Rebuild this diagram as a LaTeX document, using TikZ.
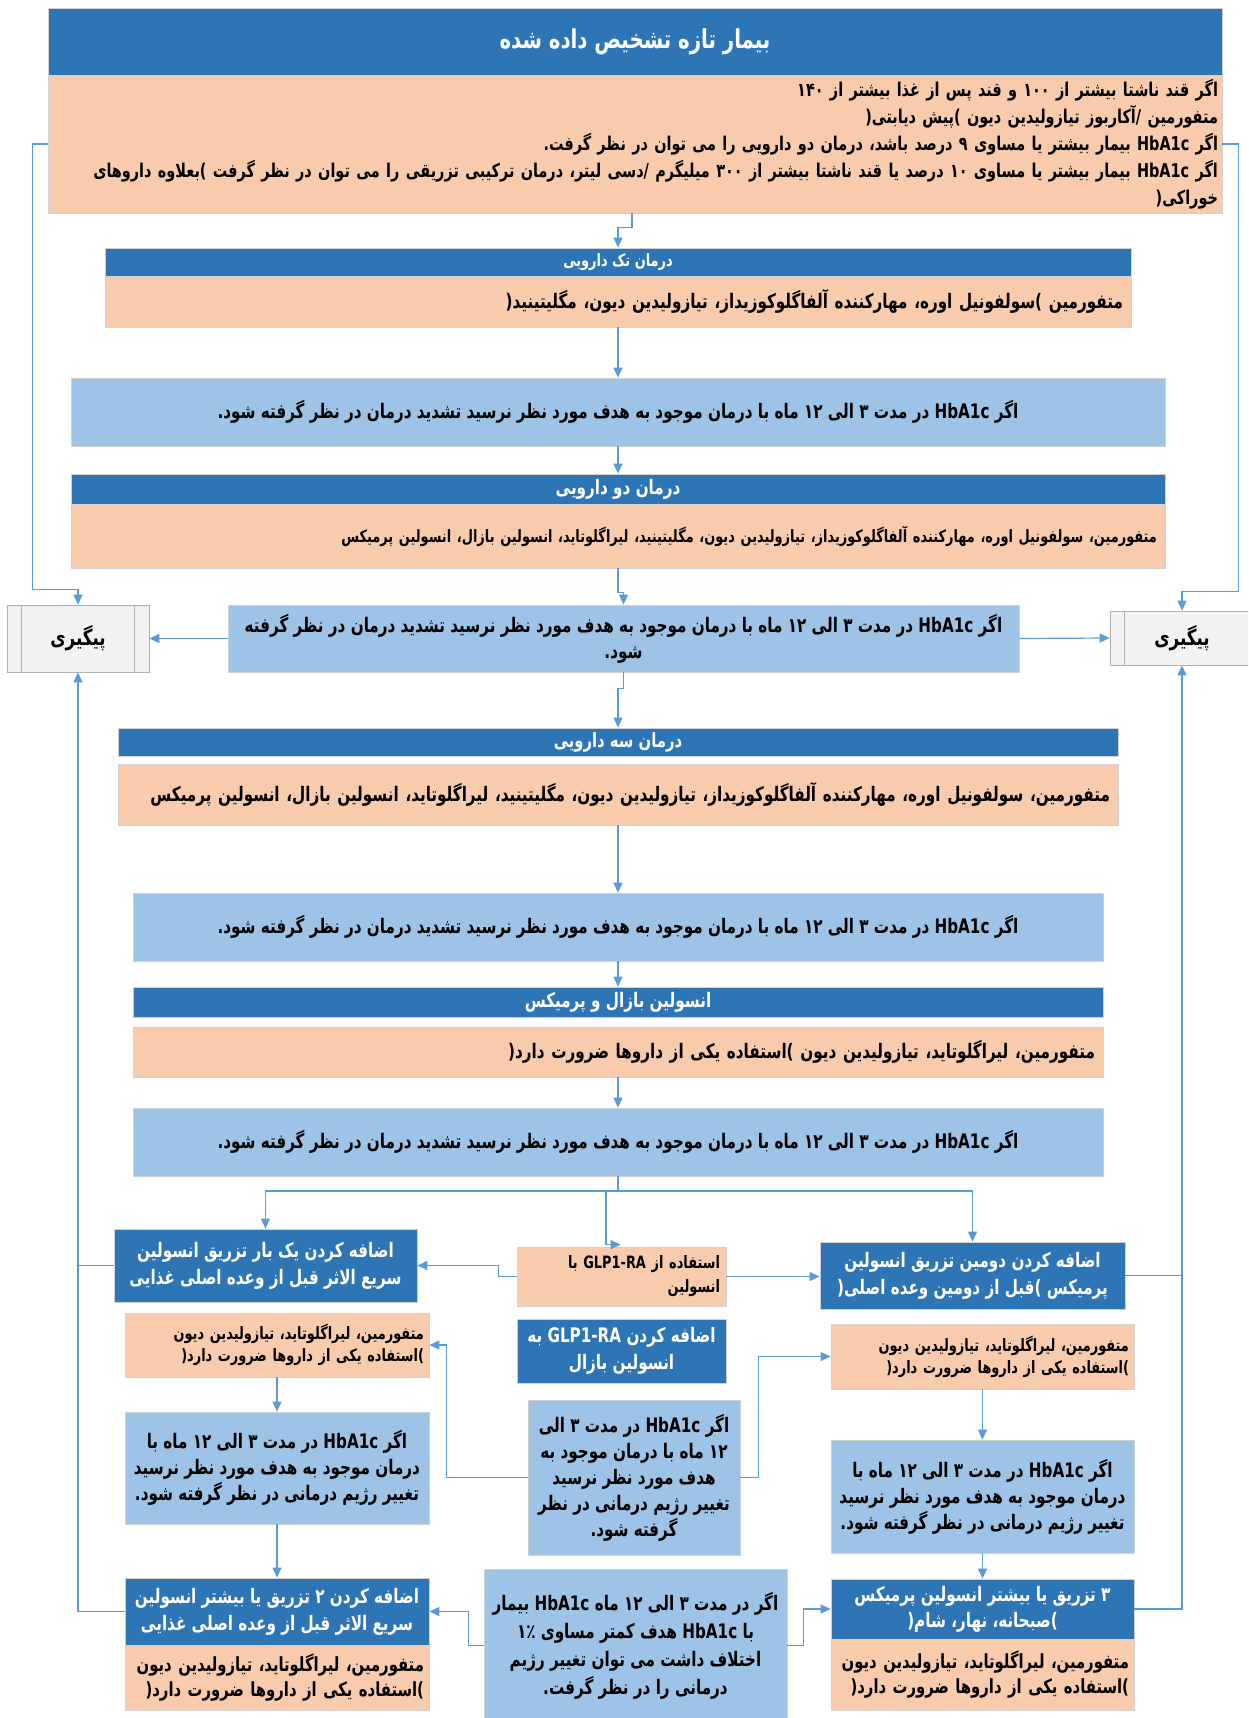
\documentclass[tikz,border=0pt]{standalone}
\usepackage{fontspec}
\usetikzlibrary{arrows.meta}
\TeXXeTstate=1
\newfontfamily\farsi[Script=Arabic,FakeStretch=0.76]{DejaVu Sans}
\newcommand{\fa}[1]{\beginR #1\endR}
\newcommand{\fs}[2]{\fontsize{#1}{#2}\selectfont}
\newcommand{\glp}{\mbox{GLP1-RA}}
\newcommand{\hbcond}{اگر HbA1c در مدت ۳ الی ۱۲ ماه با درمان موجود به هدف مورد نظر نرسید تشدید درمان در نظر گرفته شود.}
\definecolor{hdblue}{RGB}{46,117,182}
\definecolor{pchfill}{RGB}{248,203,173}
\definecolor{ltblue}{RGB}{157,195,230}
\definecolor{pigfill}{RGB}{242,242,242}
\definecolor{lnblue}{RGB}{91,155,213}
\tikzset{
  box/.style={draw=black!18, line width=0.8, inner sep=4},
  hdr/.style={box, fill=hdblue, text=white},
  pch/.style={box, fill=pchfill},
  cond/.style={box, fill=ltblue},
  pig/.style={box, fill=pigfill, draw=black!30},
  ln/.style={draw=lnblue, line width=1.2},
  arr/.style={ln, -{Triangle[width=9,length=10]}},
}
\begin{document}
\begin{tikzpicture}[x=1pt,y=-1pt]
\useasboundingbox (0,0) rectangle (1248,1718);
\clip (0,0) rectangle (1248,1718);
% main column
\node[hdr, minimum width=1174, minimum height=67, font=\farsi\bfseries\fs{26}{30}] (title) at (635,41.5) {\fa{بیمار تازه تشخیص داده شده}};
\node[pch, minimum width=1174, minimum height=138, text width=1166, align=right, font=\farsi\bfseries\fs{19}{27}] (top2) at (635,144)
  {\fa{اگر قند ناشتا بیشتر از ۱۰۰ و قند پس از غذا بیشتر از ۱۴۰}\\
   \fa{متفورمین /آکاربوز تیازولیدین دیون )پیش دیابتی(}\\
   \fa{اگر HbA1c بیمار بیشتر یا مساوی ۹ درصد باشد، درمان دو دارویی را می توان در نظر گرفت.}\\
   \fa{اگر HbA1c بیمار بیشتر یا مساوی ۱۰ درصد یا قند ناشتا بیشتر از ۳۰۰ میلیگرم /دسی لیتر، درمان ترکیبی تزریقی را می توان در نظر گرفت )بعلاوه داروهای}\\
   \fa{خوراکی(}};
\node[hdr, minimum width=1026, minimum height=28, font=\farsi\bfseries\fs{17}{20}] (monoH) at (618,262) {\fa{درمان تک دارویی}};
\node[pch, minimum width=1026, minimum height=51, text width=1010, align=right, font=\farsi\bfseries\fs{20}{24}] (monoP) at (618,301.5)
  {\fa{متفورمین )سولفونیل اوره، مهارکننده آلفاگلوکوزیداز، تیازولیدین دیون، مگلیتینید(}};
\node[cond, minimum width=1094, minimum height=68, font=\farsi\bfseries\fs{20}{26}] (lb1) at (618,412) {\fa{\hbcond}};
\node[hdr, minimum width=1094, minimum height=30, font=\farsi\bfseries\fs{20}{22}] (duoH) at (618,489) {\fa{درمان دو دارویی}};
\node[pch, minimum width=1094, minimum height=64, text width=1078, align=right, font=\farsi\bfseries\fs{17}{20}] (duoP) at (618,536)
  {\fa{متفورمین، سولفونیل اوره، مهارکننده آلفاگلوکوزیداز، تیازولیدین دیون، مگلیتینید، لیراگلوتاید، انسولین بازال، انسولین پرمیکس}};
\node[cond, minimum width=791, minimum height=67, align=center, font=\farsi\bfseries\fs{20}{26}] (lb2) at (623.5,638.5)
  {\fa{اگر HbA1c در مدت ۳ الی ۱۲ ماه با درمان موجود به هدف مورد نظر نرسید تشدید درمان در نظر گرفته}\\ \fa{شود.}};
\node[pig, minimum width=142, minimum height=67, font=\farsi\bfseries\fs{22}{24}] (pigL) at (78,638.5) {\fa{پیگیری}};
\node[pig, minimum width=144, minimum height=54, font=\farsi\bfseries\fs{22}{24}] (pigR) at (1182,638) {\fa{پیگیری}};
\draw[black!30] ([xshift=15]pigL.north west) -- ([xshift=15]pigL.south west);
\draw[black!30] ([xshift=-15]pigL.north east) -- ([xshift=-15]pigL.south east);
\draw[black!30] ([xshift=15]pigR.north west) -- ([xshift=15]pigR.south west);
\node[hdr, minimum width=1000, minimum height=28, font=\farsi\bfseries\fs{19.5}{22}] (triH) at (618,742) {\fa{درمان سه دارویی}};
\node[pch, minimum width=1000, minimum height=61, text width=984, align=right, font=\farsi\bfseries\fs{20}{24}] (triP) at (618,794.5)
  {\fa{متفورمین، سولفونیل اوره، مهارکننده آلفاگلوکوزیداز، تیازولیدین دیون، مگلیتینید، لیراگلوتاید، انسولین بازال، انسولین پرمیکس}};
\node[cond, minimum width=970, minimum height=68, font=\farsi\bfseries\fs{20}{26}] (lb3) at (618,927) {\fa{\hbcond}};
\node[hdr, minimum width=970, minimum height=30, font=\farsi\bfseries\fs{20}{22}] (bpH) at (618,1002) {\fa{انسولین بازال و پرمیکس}};
\node[pch, minimum width=970, minimum height=50, text width=954, align=right, font=\farsi\bfseries\fs{20}{24}] (bpP) at (618,1052)
  {\fa{متفورمین، لیراگلوتاید، تیازولیدین دیون )استفاده یکی از داروها ضرورت دارد(}};
\node[cond, minimum width=970, minimum height=68, font=\farsi\bfseries\fs{20}{26}] (lb4) at (618,1142) {\fa{\hbcond}};
% lower branches
\node[hdr, minimum width=303, minimum height=73, align=center, font=\farsi\bfseries\fs{20}{27}] (addA) at (265.5,1265.5)
  {\fa{اضافه کردن یک بار تزریق انسولین}\\ \fa{سریع الاثر قبل از وعده اصلی غذایی}};
\node[pch, minimum width=209, minimum height=59, text width=197, align=right, font=\farsi\bfseries\fs{17}{24}] (glpP) at (621.5,1276.5)
  {\fa{استفاده از \glp{} با}\\ \fa{انسولین}};
\node[hdr, minimum width=305, minimum height=67, align=center, font=\farsi\bfseries\fs{20}{27}] (addB) at (972.5,1275.5)
  {\fa{اضافه کردن دومین تزریق انسولین}\\ \fa{پرمیکس )قبل از دومین وعده اصلی(}};
\node[pch, minimum width=304, minimum height=64, text width=294, align=right, font=\farsi\bfseries\fs{17}{22}] (drgL) at (277,1345)
  {\fa{متفورمین، لیراگلوتاید، تیازولیدین دیون}\\ \fa{)استفاده یکی از داروها ضرورت دارد(}};
\node[hdr, minimum width=209, minimum height=64, align=center, font=\farsi\bfseries\fs{20}{27}] (glpB) at (621.5,1351)
  {\fa{اضافه کردن \glp{} به}\\ \fa{انسولین بازال}};
\node[pch, minimum width=303, minimum height=65, text width=293, align=right, font=\farsi\bfseries\fs{17}{22}] (drgR) at (982.5,1356.5)
  {\fa{متفورمین، لیراگلوتاید، تیازولیدین دیون}\\ \fa{)استفاده یکی از داروها ضرورت دارد(}};
\node[cond, minimum width=212, minimum height=155, align=center, font=\farsi\bfseries\fs{20}{26}] (regM) at (634,1477.5)
  {\fa{اگر HbA1c در مدت ۳ الی}\\ \fa{۱۲ ماه با درمان موجود به}\\ \fa{هدف مورد نظر نرسید}\\ \fa{تغییر رژیم درمانی در نظر}\\ \fa{گرفته شود.}};
\node[cond, minimum width=304, minimum height=112, align=center, font=\farsi\bfseries\fs{20}{26}] (regL) at (277,1468)
  {\fa{اگر HbA1c در مدت ۳ الی ۱۲ ماه با}\\ \fa{درمان موجود به هدف مورد نظر نرسید}\\ \fa{تغییر رژیم درمانی در نظر گرفته شود.}};
\node[cond, minimum width=303, minimum height=113, align=center, font=\farsi\bfseries\fs{20}{26}] (regR) at (982.5,1496.5)
  {\fa{اگر HbA1c در مدت ۳ الی ۱۲ ماه با}\\ \fa{درمان موجود به هدف مورد نظر نرسید}\\ \fa{تغییر رژیم درمانی در نظر گرفته شود.}};
\node[hdr, minimum width=304, minimum height=67, align=center, font=\farsi\bfseries\fs{20}{27}] (addK) at (277,1611.5)
  {\fa{اضافه کردن ۲ تزریق یا بیشتر انسولین}\\ \fa{سریع الاثر قبل از وعده اصلی غذایی}};
\node[pch, minimum width=304, minimum height=65, text width=294, align=right, font=\farsi\bfseries\fs{19.5}{25}] (drgK) at (277,1677.5)
  {\fa{متفورمین، لیراگلوتاید، تیازولیدین دیون}\\ \fa{)استفاده یکی از داروها ضرورت دارد(}};
\node[cond, minimum width=303, minimum height=153, align=center, font=\farsi\bfseries\fs{20}{28}] (goalN) at (635.5,1645.5)
  {\fa{اگر در مدت ۳ الی ۱۲ ماه HbA1c بیمار}\\ \fa{با HbA1c هدف کمتر مساوی ۱٪}\\ \fa{اختلاف داشت می توان تغییر رژیم}\\ \fa{درمانی را در نظر گرفت.}};
\node[hdr, minimum width=303, minimum height=60, align=center, font=\farsi\bfseries\fs{20}{26}] (addL) at (982.5,1609)
  {\fa{۳ تزریق یا بیشتر انسولین پرمیکس}\\ \fa{)صبحانه، نهار، شام(}};
\node[pch, minimum width=303, minimum height=71, text width=293, align=right, font=\farsi\bfseries\fs{19.5}{25}] (drgL2) at (982.5,1674.5)
  {\fa{متفورمین، لیراگلوتاید، تیازولیدین دیون}\\ \fa{)استفاده یکی از داروها ضرورت دارد(}};
% connectors
\draw[arr] ([xshift=-3]top2.south) -- ++(0,14) -| (monoH.north);
\draw[arr] (top2.west) -- ++(-15,0) |- ([yshift=15]pigL.north) -- (pigL.north);
\draw[arr] (top2.east) -- ++(16,0) |- ([yshift=19]pigR.north) -- (pigR.north);
\draw[arr] (monoP.south) -- (lb1.north);
\draw[arr] (lb1.south) -- (duoH.north);
\draw[arr] (duoP.south) -- ++(0,24) -| (lb2.north);
\draw[arr] (lb2.west) -- (pigL.east);
\draw[arr] (lb2.east) -- (pigR.west);
\draw[arr] (lb2.south) -- ++(0,16) -| (triH.north);
\draw[arr] (triP.south) -- (lb3.north);
\draw[arr] (lb3.south) -- (bpH.north);
\draw[arr] (bpP.south) -- (lb4.north);
\coordinate (br) at (618,1191);
\coordinate (brm) at (606,1191);
\draw[ln] (lb4.south) -- (br);
\draw[arr] (br) -| (addA.north);
\draw[arr] (br) -| (addB.north);
\draw[arr] (brm) |- ([xshift=104,yshift=2]glpP.north west);
\draw[arr] (glpP.west) -- ++(-18,0) |- (addA.east);
\draw[arr] (glpP.east) -- (glpP.east -| addB.west);
\draw[ln] (addA.west) -- (addA.west -| pigL.south);
\draw[arr] (addK.west) -| (pigL.south);
\draw[ln] (addB.east) -- (addB.east -| pigR.south);
\draw[arr] (addL.east) -| (pigR.south);
\draw[arr] (regM.west) -- ++(-81,0) |- (drgL.east);
\draw[arr] (regM.east) -- ++(18,0) |- (drgR.west);
\draw[arr] (drgL.south) -- (regL.north);
\draw[arr] (regL.south) -- (addK.north);
\draw[arr] (drgR.south) -- (regR.north);
\draw[arr] (regR.south) -- (addL.north);
\draw[arr] (goalN.west) -- ++(-15,0) |- (addK.east);
\draw[arr] (goalN.east) -- ++(16,0) |- (addL.west);
\end{tikzpicture}
\end{document}
